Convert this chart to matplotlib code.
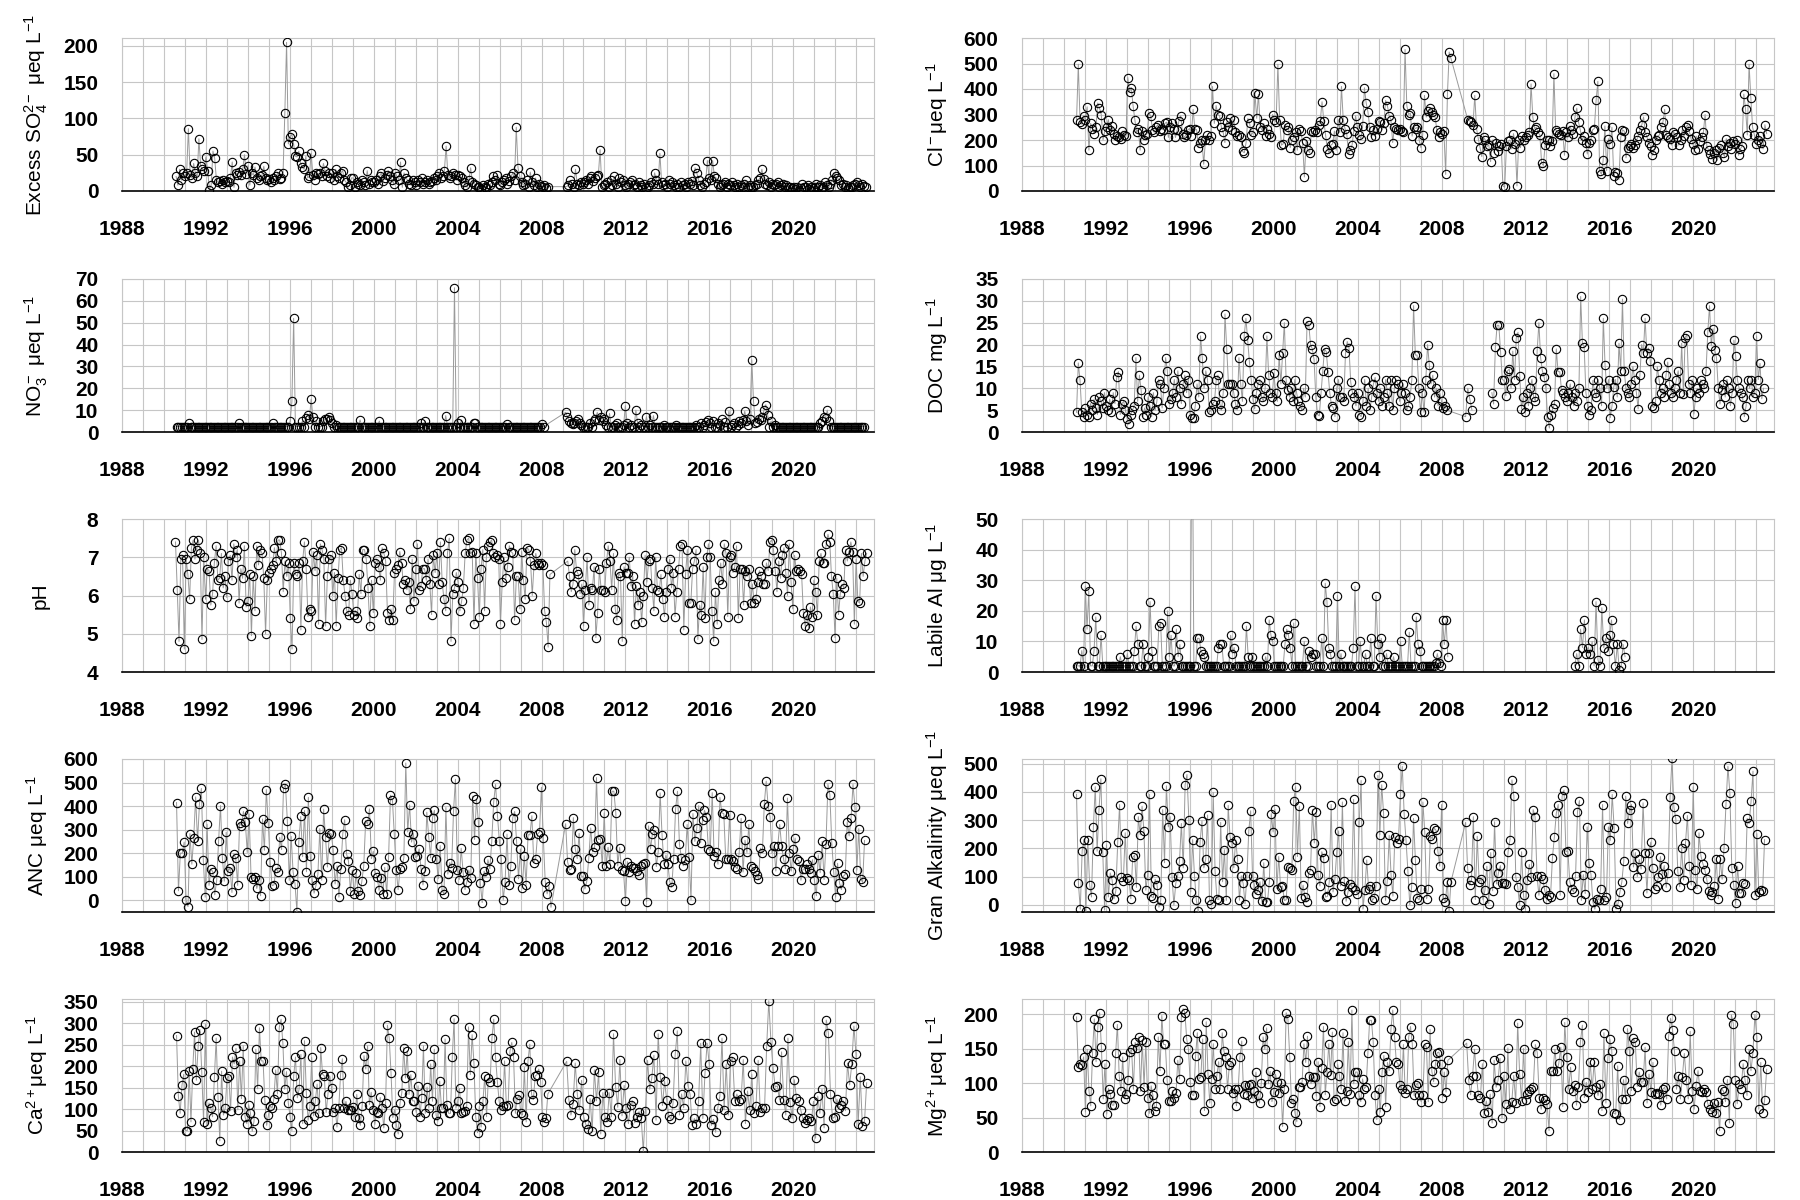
import numpy as np
import matplotlib
matplotlib.use("Agg")
import matplotlib.pyplot as plt

plt.rcParams['font.family'] = ['Liberation Sans', 'DejaVu Sans']
plt.rcParams['mathtext.fontset'] = 'custom'
plt.rcParams['mathtext.rm'] = 'Liberation Sans'
plt.rcParams['mathtext.it'] = 'Liberation Sans:italic'

# ---------------- data (roughly monthly samples) ----------------
so4_a = [20, 8, 30, 15, 25,
         20, 25, 86, 22, 18, 38, 25, 20, 72, 34, 30, 27,
         47, 28, 2, 8, 55, 45, 15, 12, 14, 10, 15, 12,
         14, 12, 18, 40, 5, 25, 22, 26, 22, 30, 50, 24,
         35, 8, 25, 22, 33, 18, 15, 20, 22, 34, 18, 15,
         17, 12, 18, 15, 20, 25, 16, 18, 25, 107, 205, 65,
         75, 78, 65, 48, 47, 55, 38, 33, 30, 48, 18, 20,
         52, 22, 15, 25, 23, 25, 20, 38, 28, 20, 25, 18,
         25, 15, 30, 20, 18, 25, 28, 15, 12, 5, 8, 18,
         18, 5, 12, 10, 8, 15, 12, 8, 28, 10, 15, 12,
         12, 15, 10, 20, 25, 14, 18, 22, 28, 20, 15, 10,
         25, 20, 15, 40, 5, 25, 18, 15, 10, 8, 15, 12,
         8, 15, 12, 18, 10, 12, 15, 10, 12, 14, 18, 15,
         20, 25, 18, 20, 28, 62, 22, 18, 20, 25, 22, 15,
         22, 20, 18, 12, 8, 5, 15, 32, 12, 10, 8, 5,
         5, 3, 8, 5, 4, 10, 8, 12, 20, 15, 22, 10,
         8, 12, 15, 18, 10, 14, 20, 25, 15, 88, 32, 20,
         12, 8, 10, 15, 6, 26, 12, 8, 18, 5, 10, 7,
         5, 8, 4, 6]
so4_b = [6, 8, 15, 10, 6, 30, 10, 8, 12, 10,
         12, 15, 10, 18, 20, 14, 18, 20, 22, 57, 5, 8,
         10, 12, 5, 15, 8, 20, 10, 6, 18, 12, 15, 8,
         5, 10, 12, 15, 8, 10, 6, 12, 8, 5, 10, 4,
         5, 8, 12, 10, 25, 15, 10, 52, 12, 8, 10, 5,
         15, 10, 12, 8, 5, 10, 6, 12, 8, 10, 5, 12,
         10, 14, 8, 32, 25, 15, 8, 5, 10, 12, 42, 18,
         15, 42, 20, 18, 10, 5, 8, 10, 12, 5, 10, 8,
         12, 8, 5, 10, 6, 8, 5, 10, 15, 5, 8, 6,
         5, 8, 10, 15, 18, 30, 16, 10, 8, 12, 5, 10,
         8, 10, 12, 6, 8, 10, 5, 8, 6, 5, 4, 5,
         3, 5, 2, 4, 10, 6, 5, 8, 3, 5, 4, 6,
         10, 5, 8, 4, 6, 12, 8, 5, 10, 15, 25, 20,
         18, 15, 8, 10, 5, 8, 4, 6, 5, 8, 10, 12,
         8, 5, 10, 7, 5]

cl_a = [278, 497, 270, 262, 295,
        280, 330, 160, 265, 245, 225, 250, 345, 325, 300, 200, 235,
        250, 280, 240, 255, 225, 200, 215, 210, 205, 235, 220, 215,
        445, 390, 405, 335, 280, 230, 245, 160, 235, 200, 220, 225,
        305, 295, 240, 230, 250, 260, 235, 245, 240, 265, 270, 210,
        250, 265, 245, 210, 240, 275, 295, 225, 210, 220, 240, 245,
        215, 320, 245, 240, 170, 190, 200, 105, 200, 220, 200, 215,
        410, 265, 335, 300, 295, 250, 230, 190, 270, 250, 285, 240,
        280, 230, 215, 220, 210, 155, 150, 190, 285, 265, 220, 230,
        385, 285, 380, 250, 240, 265, 215, 245, 225, 210, 300, 280,
        270, 497, 280, 180, 185, 260, 240, 250, 170, 200, 210, 230,
        160, 245, 235, 190, 55, 195, 160, 150, 235, 230, 240, 230,
        260, 275, 350, 275, 220, 165, 150, 180, 185, 235, 160, 280,
        230, 410, 280, 245, 225, 145, 160, 180, 235, 295, 250, 220,
        205, 255, 405, 345, 310, 250, 210, 240, 215, 245, 275, 270,
        240, 265, 355, 335, 295, 280, 190, 250, 245, 240, 245, 235,
        230, 555, 335, 300, 305, 215, 250, 245, 250, 200, 170, 220,
        375, 290, 315, 325, 310, 300, 290, 240, 210, 230, 225, 235,
        65, 380, 545, 520]
cl_b = [280, 275, 270, 260, 375, 245, 205, 170, 135, 210,
        200, 175, 180, 115, 200, 150, 190, 155, 175, 185, 20, 15,
        175, 195, 200, 165, 225, 185, 20, 200, 170, 215, 200, 210,
        220, 230, 420, 290, 245, 250, 230, 220, 110, 100, 180, 200,
        200, 175, 195, 460, 240, 230, 225, 220, 235, 140, 230, 210,
        255, 240, 225, 290, 325, 270, 240, 200, 215, 190, 145, 190,
        200, 240, 245, 355, 430, 80, 65, 120, 255, 80, 205, 185,
        250, 60, 75, 70, 45, 210, 240, 235, 130, 170, 175, 185,
        170, 180, 200, 215, 240, 260, 290, 230, 210, 190, 175, 140,
        160, 200, 215, 220, 250, 270, 320, 220, 210, 205, 180, 230,
        225, 210, 180, 200, 240, 215, 250, 260, 235, 205, 185, 160,
        215, 165, 195, 210, 230, 300, 175, 160, 145, 125, 150, 160,
        120, 170, 180, 150, 135, 205, 175, 190, 165, 195, 185, 200,
        140, 165, 175, 380, 320, 220, 497, 365, 250, 220, 185, 200,
        215, 190, 165, 260, 225]

no3_a = [2.5, 2.5, 2.5, 2.5, 2.5,
         2.5, 2.5, 4, 2.5, 2.5, 2.5, 2.5, 2.5, 2.5, 2.5, 2.5, 2.5,
         2.5, 2.5, 2.5, 2.5, 2.5, 2.5, 2.5, 2.5, 2.5, 2.5, 2.5, 2.5,
         2.5, 2.5, 2.5, 2.5, 2.5, 2.5, 2.5, 4, 2.5, 2.5, 2.5, 2.5,
         2.5, 2.5, 2.5, 2.5, 2.5, 2.5, 2.5, 2.5, 2.5, 2.5, 2.5, 2.5,
         2.5, 2.5, 4, 2.5, 2.5, 2.5, 2.5, 2.5, 2.5, 2.5, 2.5, 2.5,
         5, 14, 52, 2.5, 2.5, 2.5, 2.5, 5, 2.5, 6.5, 8, 6,
         15, 7, 2.5, 5, 2.5, 2.5, 2.5, 5, 6, 6, 7, 5.5,
         4, 2.5, 3, 2.5, 2.5, 2.5, 2.5, 2.5, 2.5, 2.5, 2.5, 2.5,
         2.5, 2.5, 2.5, 2.5, 5.5, 2.5, 2.5, 2.5, 2.5, 2.5, 2.5, 2.5,
         2.5, 2.5, 2.5, 5, 2.5, 2.5, 2.5, 2.5, 2.5, 2.5, 2.5, 2.5,
         2.5, 2.5, 2.5, 2.5, 2.5, 2.5, 2.5, 2.5, 2.5, 2.5, 2.5, 2.5,
         2.5, 2.5, 2.5, 4, 2.5, 5, 2.5, 2.5, 2.5, 2.5, 2.5, 2.5,
         2.5, 2.5, 2.5, 2.5, 2.5, 7.5, 2.5, 2.5, 2.5, 2.5, 66, 2.5,
         4, 2.5, 5.5, 2.5, 2.5, 2.5, 2.5, 2.5, 2.5, 4, 4, 2.5,
         2.5, 2.5, 2.5, 2.5, 2.5, 2.5, 2.5, 2.5, 2.5, 2.5, 2.5, 2.5,
         2.5, 2.5, 2.5, 2.5, 3.5, 2.5, 2.5, 2.5, 2.5, 2.5, 2.5, 2.5,
         2.5, 2.5, 2.5, 2.5, 2.5, 2.5, 2.5, 2.5, 2.5, 2.5, 2.5, 2.5,
         3.5, 2.5]
no3_b = [9, 7, 5, 4, 3.5, 4, 5, 6, 4, 3,
         2.5, 2.5, 2.5, 2.5, 4, 2.5, 5, 6, 9, 5.5, 7, 5,
         6, 3, 2.5, 8.5, 2.5, 2.5, 3, 4, 2.5, 2.5, 2.5, 3,
         12, 4, 2.5, 3, 2.5, 2.5, 10, 4, 2.5, 3, 2.5, 2.5,
         7, 2.5, 3, 2.5, 7.5, 2.5, 2.5, 2.5, 2.5, 2.5, 3, 2.5,
         2.5, 2.5, 2.5, 2.5, 2.5, 3, 2.5, 2.5, 2.5, 2.5, 2.5, 2.5,
         2.5, 2.5, 2.5, 2.5, 3, 2.5, 2.5, 4, 2.5, 3, 4.5, 5.5,
         4, 2.5, 5, 2.5, 2.5, 4, 3, 6, 2.5, 4.5, 2.5, 9.5,
         2.5, 3, 4, 2.5, 3, 5, 4, 5.5, 9.5, 5, 3, 6,
         33, 14, 4, 4.5, 6, 5.5, 7, 10, 12.5, 8, 2.5, 5,
         2.5, 3, 2.5, 2.5, 2.5, 2.5, 2.5, 2.5, 2.5, 2.5, 2.5, 2.5,
         2.5, 2.5, 2.5, 2.5, 2.5, 2.5, 2.5, 2.5, 2.5, 2.5, 2.5, 2.5,
         2.5, 2.5, 2.5, 4, 5, 7, 6.5, 10, 5, 2.5, 2.5, 2.5,
         2.5, 2.5, 2.5, 2.5, 2.5, 2.5, 2.5, 2.5, 2.5, 2.5, 2.5, 2.5,
         2.5, 2.5, 2.5, 2.5, 2.5]

doc_a = [4.5, 15.8, 11.8, 4.5, 3.5,
         5.5, 4, 3.5, 6.5, 5, 7.5, 5.5, 4, 8, 7, 5.5, 9,
         6, 5, 7.5, 4.5, 9, 6.5, 12.5, 13.8, 4, 6.5, 7, 5,
         3, 1.8, 4, 5, 6, 17, 7, 13, 9.5, 3.5, 5.5, 4,
         8, 6, 3.5, 9, 5, 7, 12, 11, 5.5, 10, 17, 14,
         6.5, 7.5, 9, 12, 8, 14, 10, 6.5, 11, 13, 9, 12,
         4, 3.2, 3.3, 6, 11, 8, 22, 17, 10, 14, 12, 4.5,
         5, 6.5, 7, 12, 13, 6.5, 5, 9, 27, 19, 11, 11,
         11, 9, 6.5, 5, 17, 11, 7, 22, 26, 21, 16, 12,
         7.5, 5.3, 9, 11, 12, 8, 7, 10, 22, 13, 9, 8,
         13.4, 9, 7, 17.6, 11, 18, 25, 12, 9.5, 8, 10, 7,
         12, 9, 7, 6, 5, 10, 8, 25.3, 24.5, 20, 19, 16.6,
         8, 4, 3.7, 9, 14, 19, 18.4, 13.7, 9, 6, 5.6, 3.5,
         10, 12, 8, 8, 7, 18, 20.7, 19.3, 11.4, 9, 8, 6,
         9, 4, 3.5, 7, 12, 6, 10, 5, 8, 11, 12.5, 9,
         7, 10, 6, 8, 12, 9, 6, 12, 5, 10, 12, 11,
         7, 9, 11, 9, 5, 6, 8, 12, 28.9, 17.6, 17.6, 10,
         4.5, 9, 4.5, 12, 20, 15.3, 11, 13, 8, 10, 6, 9,
         7, 5.6, 6, 5]
doc_b = [3.5, 10, 7.5, 5]
doc_c = [9, 6.4, 19.4, 24.4, 24.4, 18.4, 12, 11.8,
         8.3, 14, 14.4, 10, 18.5, 12, 21.5, 22.8, 12.8, 5.3, 8, 4.5,
         9, 6, 10, 12, 8, 7, 18.5, 25, 17, 14, 12.6, 10,
         3.5, 0.9, 3.9, 5.4, 6.4, 19, 13.8, 13.8, 9.5, 9, 8, 7,
         9, 11, 8, 6, 9, 7, 10, 31, 20.3, 19.5, 9, 6,
         4, 5, 11.8, 9, 8, 12, 10, 6, 26, 15.3, 10, 12,
         3.3, 6, 10.3, 12, 8, 20.3, 14, 30.4, 14, 10, 9, 8,
         11, 15, 12, 9, 5.3, 13, 20, 18, 26, 18, 19.2, 16.2,
         6, 5.6, 7, 15, 12, 9, 10, 8, 13, 16, 11, 9,
         8, 10, 12, 14, 9, 20.3, 8.7, 21.6, 22.3, 11, 9, 12,
         4.1, 8, 10, 9, 12, 11, 10, 14, 22.8, 28.9, 19.7, 23.6,
         18.8, 17, 10, 6.4, 9.5, 11, 8, 12, 10, 6, 9, 21,
         17.4, 12, 10, 9, 8, 3.5, 6, 11.8, 10, 12, 8, 9,
         22, 12, 15.7, 7.6, 10]

ph_a = [7.4, 6.15, 4.8, 6.95, 7.05,
        4.6, 6.95, 6.55, 5.9, 7.25, 7.45, 6.95, 7.2, 7.45, 7.1, 4.85, 7.0,
        5.9, 6.7, 6.65, 5.75, 6.05, 6.85, 7.3, 6.4, 6.45, 7.1, 6.2, 6.5,
        5.95, 6.9, 7.05, 6.4, 7.35, 7.0, 7.2, 5.8, 6.7, 6.45, 7.3, 5.7,
        5.85, 6.55, 4.95, 6.5, 5.6, 7.3, 6.8, 7.2, 7.1, 6.45, 5.0, 6.4,
        6.6, 6.7, 6.8, 7.25, 6.9, 7.45, 7.45, 7.1, 6.1, 6.9, 6.5, 6.85,
        5.4, 4.6, 6.85, 6.55, 6.5, 6.85, 5.1, 6.9, 7.4, 6.7, 5.45, 5.65,
        5.6, 7.15, 6.65, 7.05, 5.25, 7.35, 7.2, 6.95, 5.2, 6.5, 6.95, 7.05,
        6.0, 6.6, 5.2, 6.45, 7.2, 7.25, 6.4, 6.0, 5.6, 5.5, 6.4, 6.05,
        5.5, 5.6, 5.4, 6.55, 6.05, 7.2, 7.2, 6.95, 6.2, 5.2, 6.4, 5.55,
        6.85, 6.95, 6.75, 6.4, 7.25, 7.1, 6.9, 5.55, 5.35, 5.65, 5.35, 6.6,
        6.7, 6.8, 7.15, 6.85, 6.3, 6.4, 6.15, 6.35, 5.65, 6.95, 5.85, 6.7,
        7.35, 6.15, 6.25, 6.7, 6.7, 6.4, 6.95, 6.3, 5.5, 7.05, 6.6, 7.1,
        6.3, 7.4, 6.35, 5.9, 5.6, 7.1, 7.5, 4.8, 6.05, 6.2, 6.6, 6.35,
        5.6, 5.85, 6.2, 7.1, 7.45, 7.5, 7.1, 7.15, 5.25, 7.1, 6.45, 5.45,
        6.7, 7.2, 5.6, 7.0, 7.3, 7.4, 7.45, 7.1, 7.0, 7.05, 6.95, 5.25,
        6.35, 7.0, 6.45, 6.75, 7.3, 7.15, 7.1, 5.35, 6.5, 6.5, 5.65, 7.15,
        6.4, 5.9, 7.25, 7.2, 6.9, 6.0, 6.8, 7.1, 6.85, 6.8, 6.85, 6.8,
        5.6, 5.3, 4.65, 6.55]
ph_b = [6.9, 6.5, 6.1, 6.3, 7.2, 6.65, 6.55, 6.05, 6.3, 5.2,
        6.15, 7.0, 5.75, 6.2, 6.15, 6.75, 4.9, 5.55, 6.7, 6.15, 6.15, 6.1,
        6.85, 7.3, 6.9, 6.15, 7.1, 5.65, 5.35, 6.6, 6.5, 4.8, 6.75, 6.6,
        6.6, 7.0, 6.25, 6.5, 5.25, 6.25, 5.75, 6.1, 5.3, 6.0, 7.05, 6.35,
        6.9, 6.95, 6.2, 5.6, 7.0, 6.15, 6.1, 6.55, 5.9, 5.45, 6.1, 6.7,
        6.95, 6.2, 6.6, 5.45, 6.1, 6.7, 7.3, 7.35, 5.1, 6.55, 7.2, 5.8,
        5.8, 6.7, 6.9, 7.2, 4.85, 5.75, 5.5, 6.75, 5.4, 7.0, 7.35, 7.0,
        5.6, 4.8, 6.1, 5.25, 6.4, 6.85, 6.3, 7.35, 7.1, 5.45, 7.0, 7.05,
        6.6, 6.75, 7.3, 5.4, 6.7, 6.7, 5.75, 6.65, 6.5, 6.7, 5.8, 6.3,
        5.8, 5.9, 6.35, 6.65, 6.5, 6.3, 6.3, 6.85, 6.65, 7.4, 7.45, 7.2,
        6.65, 6.1, 6.9, 6.45, 7.05, 7.25, 6.6, 6.0, 7.35, 6.35, 5.65, 7.05,
        6.65, 6.7, 6.65, 6.55, 5.55, 5.2, 5.5, 5.15, 5.7, 5.45, 6.4, 6.1,
        5.5, 6.9, 7.1, 6.85, 6.85, 7.35, 7.6, 7.4, 6.5, 6.05, 4.9, 6.45,
        5.5, 6.05, 6.3, 6.2, 7.2, 6.9, 7.15, 7.4, 7.15, 5.25, 6.95, 5.85,
        5.8, 7.1, 6.5, 6.9, 7.1]

al_a = [2, 2, 2, 7, 2,
        28, 14, 26.5, 2, 2, 7, 18, 2, 2, 12, 2, 2,
        2, 2, 2, 2, 2, 2, 2, 2, 5, 2, 2, 2,
        6, 2, 2, 2, 7, 15, 9, 2, 2, 9, 2, 2,
        5, 23, 7, 2, 2, 2, 15, 16, 2, 2, 2, 20,
        5, 12, 2, 2, 14, 5, 9, 2, 2, 2, 2, 2,
        2, 95, 2, 2, 11, 11, 7, 6, 5, 2, 2, 2,
        2, 2, 2, 2, 8, 9, 9, 2, 2, 2, 2, 12,
        6, 8, 2, 2, 2, 2, 2, 2, 15, 5, 2, 5,
        2, 2, 2, 2, 2, 2, 2, 5, 2, 17, 12, 10,
        2, 2, 2, 2, 2, 2, 9, 14, 12, 8, 2, 16,
        2, 2, 2, 2, 2, 10, 2, 2, 7, 5, 6, 6,
        2, 2, 2, 11, 2, 29, 23, 8, 6, 2, 2, 2,
        25, 2, 6, 2, 2, 2, 2, 2, 2, 8, 28, 2,
        2, 10, 2, 2, 6, 2, 2, 11, 2, 2, 25, 9,
        5, 11, 2, 2, 6, 2, 2, 2, 5, 2, 2, 2,
        10, 2, 2, 2, 2, 13, 2, 2, 2, 18, 9, 7,
        2, 2, 2, 2, 2, 2, 2, 2, 3, 6, 3, 2,
        17, 9, 17, 5]
al_b = [2, 6, 2, 14, 8, 17, 6, 8, 6, 10, 2, 23, 4, 2, 21, 8, 11, 7, 12, 17,
        9, 2, 9, 0.5, 2, 9, 5]

anc_a = [415, 40, 200, 200, 247, 0, -27, 283, 153, 265, 439, 250, 410, 475, 172, 13,
         323, 63, 133, 121, 23, 84, 250, 402, 179, 81, 289, 123, 139, 33, 198, 179,
         63, 330, 316, 377, 333, 203, 367, 100, 92, 100, 50, 84, 19, 345, 212, 470,
         330, 164, 62, 65, 137, 120, 267, 215, 475, 492, 338, 84, 271, 121, 71, -48,
         247, 356, 185, 381, 121, 437, 189, 88, 30, 63, 110, 304, 85, 387, 267, 141,
         287, 281, 215, 69, 146, 13, 134, 281, 342, 196, 167, 40, 128, 25, 115, 40,
         23, 81, 146, 338, 323, 388, 177, 208, 117, 100, 42, 95, 27, 140, 27, 183,
         446, 427, 281, 128, 45, 131, 143, 180, 583, 290, 405, 247, 283, 182, 186, 218,
         131, 65, 123, 374, 270, 180, 351, 382, 175, 91, 232, 42, 25, 394, 111, 160,
         139, 380, 514, 128, 88, 221, 120, 45, 79, 128, 94, 442, 258, 430, 333, 74,
         -10, 123, 100, 172, 134, 250, 416, 492, 359, 250, 177, 1, 79, 281, 65, 146,
         351, 377, 250, 91, 218, 52, 189, 65, 278, 278, 359, 160, 177, 281, 290, 480,
         264, 79, 27, 59, -30]
anc_b = [325, 163, 128, 134, 351, 218, 177, 284, 102, 102, 48, 82, 180, 307, 206, 225,
         521, 258, 261, 146, 371, 146, 225, 153, 463, 463, 372, 146, 224, 128, 123, -4,
         164, 121, 146, 139, 137, 124, 108, 146, 153, 160, -6, 316, 218, 283, 297, 143,
         206, 456, 276, 152, 192, 152, 79, 55, 177, 388, 463, 238, 180, 146, 170, 322,
         182, 1, 368, 250, 307, 402, 244, 341, 382, 355, 218, 211, 457, 186, 203, 153,
         437, 371, 368, 177, 175, 362, 175, 166, 143, 134, 203, 348, 120, 255, 203, 322,
         146, 139, 124, 108, 91, 221, 201, 408, 506, 400, 355, 199, 229, 124, 232, 322,
         229, 175, 134, 434, 201, 124, 218, 264, 175, 166, 85, 131, 134, 153, 131, 117,
         172, 85, 19, 192, 117, 250, 88, 240, 492, 449, 244, 120, 13, 157, 74, 45,
         102, 110, 333, 273, 348, 492, 398, 128, 304, 91, 76, 254]

gran_a = [391, 76, -15, 191, 231, -23, 228, 70, 28, 276, 418, 190, 337, 446, 188, -18,
          212, 28, 113, 88, 22, 50, 222, 355, 100, 86, 255, 94, 88, 22, 168, 176,
          62, 312, 248, 349, 260, 52, 107, 391, 30, 25, 91, 71, -8, 18, 337, 149,
          421, 276, 312, 98, -1, 76, 103, 155, 288, 131, 425, 461, 300, 46, 231, 103,
          16, -23, 224, 297, 131, 161, 318, 19, 4, 398, 119, 21, 19, 292, 82, 195,
          16, 352, 240, 219, 131, 231, 161, 16, 103, 76, 4, 103, 262, 333, 103, 70,
          38, 52, 82, 13, 149, 11, 11, 82, 323, 258, 338, 58, 171, 62, 67, 16,
          18, 134, 131, 125, 369, 418, 171, 349, 25, 70, 28, 10, 113, 122, 337, 219,
          328, 107, 67, 188, 167, 28, 30, 82, 355, 46, 91, 188, 262, 67, 364, 86,
          13, 46, 74, 64, 373, 52, 40, 292, 440, -15, 52, 159, 58, 67, 16, 25,
          67, 458, 248, 425, 324, 16, 86, 246, 107, 31, 240, 219, 234, 391, 490, 321,
          228, 119, 1, 64, 306, 159, 25, 18, 58, 364, 258, 22, 55, 243, 234, 272,
          264, 191, 137, 355, 25, 10, 82, -21, 82]
gran_b = [292, 131, 70, 88, 312, 19, 243, 82, 91, 18, 52, 137, 4, 185, 50, 294,
          74, 113, 139, 79, 76, 74, 188, 231, 442, 385, 98, 64, -2, 188, 34, -15,
          88, 143, 100, 337, 312, 103, 34, 103, 91, 52, 22, 34, 28, 167, 240, 324,
          355, 34, 384, 406, 188, 191, 82, 55, 46, 103, 330, 369, 16, 107, 40, 276,
          149, 107, 10, -15, 22, 19, 58, 355, 16, 28, 276, 228, 391, 272, -15, 4,
          46, 82, 155, 385, 288, 337, 355, 134, 185, 100, 161, 127, 361, 185, 42, 183,
          222, 131, 58, 67, 100, 171, 110, 139, 62, 113, 381, 518, 345, 304, 119, 64,
          203, 88, 219, 316, 137, 70, 418, 122, 58, 255, 173, 146, 125, 91, 50, 34,
          46, 67, 161, 22, 161, 91, 203, 357, 490, 397, 131, 70, 6, 137, 42, 42,
          76, 74, 306, 288, 367, 473, 34, 252, 46, 52, 50, 231]

ca_a = [271, 131, 90, 155, 181, 50, 50, 188, 70, 193, 279, 167, 247, 285, 185, 70,
        297, 64, 114, 102, 82, 175, 265, 128, 26, 188, 86, 102, 172, 177, 96, 221,
        205, 241, 98, 212, 124, 247, 82, 66, 110, 91, 48, 72, 239, 147, 289, 212,
        212, 120, 62, 86, 108, 102, 124, 191, 135, 290, 309, 253, 146, 187, 114, 82,
        50, 177, 221, 126, 146, 227, 66, 259, 138, 74, 106, 220, 84, 118, 158, 90,
        243, 181, 177, 92, 134, 177, 150, 92, 102, 58, 102, 180, 217, 102, 118, 98,
        98, 98, 104, 82, 134, 78, 62, 108, 224, 193, 247, 110, 139, 98, 64, 94,
        90, 127, 102, 56, 114, 295, 265, 184, 80, 98, 62, 42, 114, 138, 243, 172,
        235, 134, 180, 119, 119, 92, 154, 82, 126, 247, 90, 151, 102, 205, 118, 239,
        86, 72, 165, 102, 102, 263, 110, 90, 90, 221, 310, 102, 118, 148, 90, 92,
        95, 106, 291, 180, 273, 208, 82, 45, 106, 58, 118, 177, 82, 172, 164, 265,
        309, 221, 164, 118, 98, 106, 212, 108, 110, 235, 255, 221, 90, 124, 132, 90,
        86, 197, 70, 212, 251, 134, 122, 177, 180, 193, 164, 82, 70, 78, 135]
ca_b = [211, 122, 86, 111, 207, 134, 98, 167, 82, 64, 54, 124, 50, 191, 119, 185,
        42, 138, 82, 70, 138, 82, 275, 151, 104, 215, 84, 155, 102, 66, 110, 119,
        68, 82, 94, 80, 2, 95, 213, 146, 172, 225, 74, 275, 175, 108, 165, 122,
        84, 76, 114, 227, 282, 86, 135, 103, 212, 154, 134, 62, 78, 66, 119, 253,
        78, 183, 253, 205, 62, 76, 46, 102, 130, 265, 98, 205, 86, 212, 220, 119,
        135, 118, 124, 215, 66, 142, 98, 181, 90, 108, 213, 94, 102, 102, 247, 352,
        257, 196, 151, 154, 122, 233, 122, 86, 265, 116, 78, 168, 126, 118, 98, 78,
        68, 74, 80, 72, 118, 32, 130, 90, 146, 56, 307, 277, 134, 78, 82, 123,
        102, 110, 119, 96, 207, 156, 205, 293, 227, 64, 175, 60, 72, 161]

mg_a = [196, 123, 128, 126, 138, 58, 149, 89, 67, 144, 193, 131, 182, 202, 152, 77,
        128, 55, 92, 84, 68, 68, 143, 185, 111, 89, 138, 77, 84, 105, 145, 149,
        91, 159, 151, 167, 88, 162, 95, 160, 79, 56, 96, 82, 60, 67, 167, 118,
        198, 156, 156, 104, 74, 74, 89, 78, 86, 133, 106, 196, 208, 202, 164, 149,
        101, 83, 82, 139, 173, 106, 109, 164, 60, 189, 113, 71, 106, 157, 91, 111,
        131, 91, 173, 146, 138, 91, 126, 130, 86, 91, 67, 92, 138, 161, 84, 97,
        83, 97, 99, 78, 88, 116, 82, 71, 100, 167, 149, 180, 99, 117, 73, 87,
        113, 101, 86, 100, 37, 92, 202, 193, 138, 71, 77, 56, 44, 94, 95, 102,
        157, 130, 168, 111, 99, 109, 109, 81, 131, 66, 122, 182, 83, 116, 157, 112,
        174, 74, 77, 127, 111, 91, 173, 74, 89, 160, 84, 206, 99, 116, 116, 83,
        73, 106, 92, 95, 143, 191, 191, 160, 82, 47, 92, 58, 116, 140, 66, 130,
        118, 179, 206, 167, 131, 128, 97, 91, 156, 86, 91, 167, 182, 157, 82, 97,
        100, 82, 73, 82, 156, 152, 73, 178, 117, 102, 127, 144, 145, 127, 79, 116,
        87, 133]
mg_b = [158, 104, 83, 111, 149, 110, 82, 79, 128, 57, 74, 58, 84, 42, 133, 94,
        104, 136, 49, 111, 70, 151, 62, 73, 111, 71, 187, 113, 74, 150, 76, 84,
        89, 91, 95, 156, 144, 78, 62, 79, 76, 70, 31, 117, 117, 149, 117, 129,
        152, 66, 188, 138, 91, 123, 88, 97, 68, 94, 160, 184, 79, 101, 87, 130,
        91, 130, 95, 82, 99, 60, 173, 71, 137, 164, 147, 56, 55, 125, 47, 77,
        105, 77, 179, 146, 89, 165, 159, 95, 116, 101, 102, 152, 71, 113, 87, 130,
        84, 86, 84, 68, 91, 94, 77, 168, 194, 177, 146, 91, 111, 77, 109, 143,
        105, 77, 175, 89, 62, 96, 118, 89, 87, 92, 87, 70, 62, 58, 71, 57,
        72, 31, 92, 88, 73, 105, 42, 199, 186, 105, 70, 99, 92, 128, 104, 82,
        149, 118, 144, 199, 167, 62, 130, 57, 76, 120]

year_labels = [1988, 1992, 1996, 2000, 2004, 2008, 2012, 2016, 2020]
BREAK = None


def build(parts):
    # each part: (first sample, last sample, values); BREAK = no line across the gap
    xs, ys = [], []
    for p in parts:
        if p is BREAK:
            xs.append(np.nan)
            ys.append(np.nan)
            continue
        t0, t1, vals = p
        xs.extend(np.linspace(t0, t1, len(vals)))
        ys.extend(vals)
    return np.array(xs, float), np.array(ys, float)


panels = [
    # col, row, ylabel, parts, ylim, yticks
    (0, 0, 'Excess SO$_4^{2-}$ μeq L$^{-1}$',
     [(1990.58, 2008.3, so4_a), (2009.2, 2023.45, so4_b)], (0, 211), range(0, 201, 50)),
    (1, 0, 'Cl$^-$μeq L$^{-1}$',
     [(1990.6, 2008.45, cl_a), (2009.25, 2023.5, cl_b)], (0, 600), range(0, 601, 100)),
    (0, 1, 'NO$_3^-$ μeq L$^{-1}$',
     [(1990.6, 2008.1, no3_a), (2009.15, 2023.38, no3_b)], (0, 70), range(0, 71, 10)),
    (1, 1, 'DOC mg L$^{-1}$',
     [(1990.6, 2008.25, doc_a), (2009.15, 2009.45, doc_b), BREAK, (2010.4, 2023.35, doc_c)],
     (0, 35), range(0, 36, 5)),
    (0, 2, 'pH',
     [(1990.55, 2008.4, ph_a), (2009.25, 2023.5, ph_b)], (4, 8), range(4, 9, 1)),
    (1, 2, 'Labile Al μg L$^{-1}$',
     [(1990.6, 2008.3, al_a), BREAK, (2014.35, 2016.75, al_b)], (0, 50), range(0, 51, 10)),
    (0, 3, 'ANC μeq L$^{-1}$',
     [(1990.6, 2008.45, anc_a), (2009.15, 2023.4, anc_b)], (-50, 600), range(0, 601, 100)),
    (1, 3, 'Gran Alkalinity μeq L$^{-1}$',
     [(1990.6, 2008.45, gran_a), (2009.15, 2023.4, gran_b)], (-25, 516), range(0, 501, 100)),
    (0, 4, 'Ca$^{2+}$μeq L$^{-1}$',
     [(1990.6, 2008.3, ca_a), (2009.2, 2023.5, ca_b)], (0, 356), range(0, 351, 50)),
    (1, 4, 'Mg$^{2+}$μeq L$^{-1}$',
     [(1990.6, 2008.3, mg_a), (2009.2, 2023.5, mg_b)], (0, 222), range(0, 201, 50)),
]

fig = plt.figure(figsize=(18, 12), dpi=100)
W, H = 1800.0, 1200.0
col_x = [122, 1022]
row_top = [38, 279, 519, 759, 999]
ax_w, ax_h = 752, 153

grid_c = '#c6c6c6'
for col, row, ylabel, parts, ylim, yticks in panels:
    ax = fig.add_axes([col_x[col] / W, 1 - (row_top[row] + ax_h) / H, ax_w / W, ax_h / H])
    x, y = build(parts)
    ax.plot(x, y, color='#9a9a9a', lw=0.7, marker='o', ms=6, mfc='none',
            mec='black', mew=0.8, zorder=3)
    ax.set_xlim(1988, 2023.85)
    ax.set_ylim(*ylim)
    ax.set_xticks(year_labels)
    ax.set_xticks(np.arange(1988, 2024), minor=True)
    ax.set_yticks(list(yticks))
    ax.grid(True, which='both', axis='x', color=grid_c, lw=0.8)
    ax.grid(True, which='major', axis='y', color=grid_c, lw=0.8)
    ax.set_axisbelow(True)
    ax.tick_params(axis='both', which='both', length=0)
    ax.tick_params(axis='x', pad=21, labelsize=15)
    ax.tick_params(axis='y', pad=17, labelsize=15)
    for lab in ax.get_xticklabels() + ax.get_yticklabels():
        lab.set_fontweight('bold')
    for s in ('top', 'right', 'left'):
        ax.spines[s].set_color(grid_c)
        ax.spines[s].set_linewidth(0.8)
    ax.spines['bottom'].set_color('black')
    ax.spines['bottom'].set_linewidth(1.2)
    ax.set_ylabel(ylabel, fontsize=15)
    ax.yaxis.set_label_coords(-0.096, 0.5)

fig.savefig('out.png', dpi=100, facecolor='white')
